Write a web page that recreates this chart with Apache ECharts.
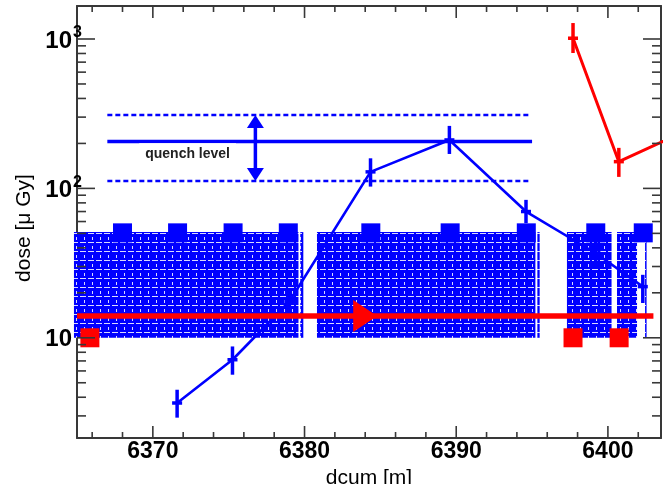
<!DOCTYPE html>
<html><head><meta charset="utf-8">
<script src="https://cdn.jsdelivr.net/npm/echarts@6/dist/echarts.min.js"></script>
<style>html,body{margin:0;padding:0;background:#fff}#c{width:666px;height:484px}</style>
</head><body><div id="c"></div>
<script>
// ---- axis ranges & ticks ----
const XMIN = 6365, XMAX = 6403.5;
const YMIN = 2.134, YMAX = 1663;
const xTickLabels = [6370, 6380, 6390, 6400];
const xMinorTicks = [6366, 6368, 6372, 6374, 6376, 6378, 6382, 6384, 6386, 6388, 6392, 6394, 6396, 6398, 6402];
const yMajorTicks = [10, 100, 1000];
const yMinorTicks = [3, 4, 5, 6, 7, 8, 9, 20, 30, 40, 50, 60, 70, 80, 90, 200, 300, 400, 500, 600, 700, 800, 900];

// ---- blue measurement (dose vs dcum) ----
const blueX  = [6371.6, 6375.25, 6379.0, 6384.35, 6389.55, 6394.6, 6399.2, 6402.3];
const blueY  = [3.66, 7.13, 17.5, 129, 211, 70, 36.8, 22];
const blueLo = [2.92, 5.66, 15.4, 102.8, 170, 58.5, 28.9, 17.1];
const blueHi = [4.49, 8.75, 19.9, 159, 262, 83.8, 44.6, 26.4];

// ---- red measurement ----
const redX  = [6397.7, 6400.72, 6405];
const redY  = [1012, 151, 239];
const redLo = [806, 119.4];
const redHi = [1279, 186.8];

// ---- markers ----
const blueSqX = [6368, 6371.63, 6375.29, 6378.93, 6384.37, 6389.6, 6394.62, 6399.2, 6402.33];
const blueSqY = [50.4, 50.4, 50.4, 50.4, 50.4, 50.4, 50.4, 50.4, 50.4];
const redSqX = [6365.85, 6397.7, 6400.74];
const redSqY = [10, 10, 10];

// ---- hatched element regions ----
const hatchX0 = [6364.8, 6379.72, 6380.82, 6395.35, 6397.3, 6400.6, 6402.45];
const hatchX1 = [6379.6, 6379.92, 6395.22, 6395.5, 6400.24, 6401.92, 6402.55];
const hatchLow = 10, hatchHigh = 51;

// ---- beam line & arrow ----
const beamX = [6365, 6403.0];
const beamY = [14, 14];
const beamArrowX = [6384.0];
const beamArrowY = [14];

// ---- quench level ----
const quenchX = [6367, 6395.0];
const quenchLevel = 206, quenchHigh = 310, quenchLow = 112;
const quenchDashX = [6367, 6394.78];
const quenchArrowX = 6376.76;
const quenchText = 'quench level';
const quenchTextPos = [6369.1, 169];

const F = "'Liberation Sans', Arial, Helvetica, sans-serif";
const BLUE = '#0000ff', RED = '#ff0000', FRAME = '#383838';

// hatch pattern tile
const pc = document.createElement('canvas');
pc.width = 8; pc.height = 9;
const g = pc.getContext('2d');
g.fillStyle = BLUE; g.fillRect(0, 0, 8, 9);
g.fillStyle = 'rgba(255,255,255,0.85)';
g.fillRect(0, 8, 6, 1);
g.fillRect(4, 3, 1, 3);
const hatchFill = {image: pc, repeat: 'repeat'};

const zip = (a, b) => a.map((v, i) => [v, b[i]]);

const tickData = [];
xTickLabels.forEach(v => tickData.push([v, YMIN, 0]));
xMinorTicks.forEach(v => tickData.push([v, YMIN, 1]));
yMajorTicks.forEach(v => tickData.push([XMIN, v, 2]));
yMinorTicks.forEach(v => tickData.push([XMIN, v, 3]));

function errRender(color) {
  return function (params, api) {
    const x = api.value(0), y = api.value(1), lo = api.value(2), hi = api.value(3), xe = 0.33;
    const t = api.coord([x, hi]), b = api.coord([x, lo]);
    const l = api.coord([x - xe, y]), r = api.coord([x + xe, y]);
    const st = {stroke: color, lineWidth: 3.5};
    return {type: 'group', children: [
      {type: 'line', shape: {x1: t[0], y1: t[1], x2: b[0], y2: b[1]}, style: st},
      {type: 'line', shape: {x1: l[0], y1: l[1], x2: r[0], y2: r[1]}, style: st}
    ]};
  };
}

const option = {
  animation: false,
  backgroundColor: '#fff',
  grid: {left: 77, right: 5, top: 6, bottom: 46, containLabel: false, outerBoundsMode: 'none'},
  xAxis: [{
    type: 'value', min: XMIN, max: XMAX, position: 'bottom',
    axisLine: {show: true, onZero: false, lineStyle: {color: FRAME, width: 2}},
    axisTick: {show: false}, splitLine: {show: false},
    axisLabel: {
      customValues: xTickLabels,
      formatter: v => (Math.abs(v % 10) < 1e-6 ? String(v) : ''),
      fontSize: 23, fontWeight: 'bold', fontFamily: F, color: '#000', margin: 2
    },
    name: 'dcum [m]', nameLocation: 'middle', nameGap: 24,
    nameTextStyle: {fontSize: 21, fontFamily: F, color: '#000'}
  }, {
    type: 'value', min: XMIN, max: XMAX, position: 'top',
    axisLine: {show: true, onZero: false, lineStyle: {color: FRAME, width: 2}},
    axisTick: {show: false}, axisLabel: {show: false}, splitLine: {show: false}
  }],
  yAxis: [{
    type: 'log', logBase: 10, min: YMIN, max: YMAX, position: 'left',
    axisLine: {show: true, onZero: false, lineStyle: {color: FRAME, width: 2}},
    axisTick: {show: false}, splitLine: {show: false}, minorTick: {show: false},
    axisLabel: {
      showMinLabel: false, showMaxLabel: false, margin: -5,
      formatter: v => {
        const e = Math.log10(v), r = Math.round(e);
        if (Math.abs(e - r) > 1e-6) return '';
        return '{b|10}{s|' + (r === 1 ? ' ' : r) + '}';
      },
      rich: {
        b: {fontSize: 24, fontWeight: 'bold', fontFamily: F, color: '#000', padding: [4, 0, 0, 0]},
        s: {fontSize: 16, fontWeight: 'bold', fontFamily: F, color: '#000', width: 10, verticalAlign: 'top'}
      }
    },
    name: 'dose [\u03bc Gy]', nameLocation: 'middle', nameGap: 36, nameRotate: 90,
    nameTextStyle: {fontSize: 21, fontFamily: F, color: '#000', padding: [0, 12, 0, 0]}
  }, {
    type: 'log', logBase: 10, min: YMIN, max: YMAX, position: 'right',
    axisLine: {show: true, onZero: false, lineStyle: {color: FRAME, width: 2}},
    axisTick: {show: false}, axisLabel: {show: false}, splitLine: {show: false}
  }],
  series: [
    { // red squares (below hatch)
      type: 'scatter', data: zip(redSqX, redSqY), symbol: 'rect', symbolSize: 19,
      itemStyle: {color: RED, opacity: 1}, z: 2
    },
    { // hatched regions
      type: 'custom', z: 2,
      data: hatchX0.map((x0, i) => [x0, hatchX1[i], hatchLow, hatchHigh]),
      encode: {x: [0, 1], y: [2, 3]},
      renderItem: (params, api) => {
        const p0 = api.coord([api.value(0), api.value(3)]);
        const p1 = api.coord([api.value(1), api.value(2)]);
        return {type: 'rect', shape: {x: p0[0], y: p0[1], width: p1[0] - p0[0], height: p1[1] - p0[1]},
          style: {fill: hatchFill}};
      }
    },
    { // blue squares
      type: 'scatter', data: zip(blueSqX, blueSqY), symbol: 'rect', symbolSize: 19,
      itemStyle: {color: BLUE, opacity: 1}, z: 3
    },
    { // blue line
      type: 'line', data: zip(blueX, blueY), symbol: 'none', z: 3,
      lineStyle: {color: BLUE, width: 2.6}
    },
    { // blue error bars
      type: 'custom', z: 3,
      data: blueX.map((x, i) => [x, blueY[i], blueLo[i], blueHi[i]]),
      encode: {x: 0, y: [1, 2, 3]},
      renderItem: errRender(BLUE)
    },
    { // quench level solid
      type: 'line', data: zip(quenchX, [quenchLevel, quenchLevel]), symbol: 'none', z: 3,
      lineStyle: {color: BLUE, width: 3.5}
    },
    { // quench high dashed
      type: 'line', data: zip(quenchDashX, [quenchHigh, quenchHigh]), symbol: 'none', z: 3,
      lineStyle: {color: BLUE, width: 2.6, type: [5, 3]}
    },
    { // quench low dashed
      type: 'line', data: zip(quenchDashX, [quenchLow, quenchLow]), symbol: 'none', z: 3,
      lineStyle: {color: BLUE, width: 2.6, type: [5, 3]}
    },
    { // double arrow
      type: 'custom', z: 4,
      data: [[quenchArrowX, quenchHigh, quenchLow]],
      encode: {x: 0, y: [1, 2]},
      renderItem: (params, api) => {
        const t = api.coord([api.value(0), api.value(1)]);
        const b = api.coord([api.value(0), api.value(2)]);
        const st = {fill: BLUE};
        return {type: 'group', children: [
          {type: 'line', shape: {x1: t[0], y1: t[1] + 10, x2: b[0], y2: b[1] - 10}, style: {stroke: BLUE, lineWidth: 3.5}},
          {type: 'polygon', shape: {points: [[t[0], t[1]], [t[0] - 8.5, t[1] + 13], [t[0] + 8.5, t[1] + 13]]}, style: st},
          {type: 'polygon', shape: {points: [[b[0], b[1]], [b[0] - 8.5, b[1] - 13], [b[0] + 8.5, b[1] - 13]]}, style: st}
        ]};
      }
    },
    { // quench label
      type: 'custom', z: 5,
      data: [[quenchTextPos[0], quenchTextPos[1]]],
      renderItem: (params, api) => {
        const p = api.coord([api.value(0), api.value(1)]);
        return {type: 'text', x: p[0], y: p[1], style: {
          text: quenchText, font: 'bold 14px ' + F, fill: '#222', align: 'left', verticalAlign: 'middle',
          backgroundColor: '#fff', padding: [4, 6, 4, 6]}};
      }
    },
    { // red beam line
      type: 'line', data: zip(beamX, beamY), symbol: 'none', z: 5,
      lineStyle: {color: RED, width: 5.5}
    },
    { // beam direction arrow
      type: 'scatter', data: zip(beamArrowX, beamArrowY), z: 5,
      symbol: 'path://M0,0 L24,16 L0,32 Z', symbolSize: [24, 32],
      itemStyle: {color: RED, opacity: 1}
    },
    { // red line
      type: 'line', data: zip(redX, redY), symbol: 'none', z: 5, clip: true,
      lineStyle: {color: RED, width: 3}
    },
    { // red error bars
      type: 'custom', z: 5,
      data: redLo.map((lo, i) => [redX[i], redY[i], lo, redHi[i]]),
      encode: {x: 0, y: [1, 2, 3]},
      renderItem: errRender(RED)
    },
    { // axis ticks on all four sides
      type: 'custom', z: 6, silent: true,
      data: tickData,
      encode: {x: 0, y: 1},
      renderItem: (params, api) => {
        const x = api.value(0), y = api.value(1), code = api.value(2);
        const st = {stroke: FRAME, lineWidth: 1.6};
        if (code < 2) {
          const b = api.coord([x, YMIN]), t = api.coord([x, YMAX]);
          const L = code === 0 ? 12 : 6;
          return {type: 'group', children: [
            {type: 'line', shape: {x1: b[0], y1: b[1], x2: b[0], y2: b[1] - L}, style: st},
            {type: 'line', shape: {x1: t[0], y1: t[1], x2: t[0], y2: t[1] + L}, style: st}
          ]};
        }
        const l = api.coord([XMIN, y]), r = api.coord([XMAX, y]);
        const L = code === 2 ? 18 : 9;
        return {type: 'group', children: [
          {type: 'line', shape: {x1: l[0], y1: l[1], x2: l[0] + L, y2: l[1]}, style: st},
          {type: 'line', shape: {x1: r[0], y1: r[1], x2: r[0] - L, y2: r[1]}, style: st}
        ]};
      }
    }
  ]
};
const chart = echarts.init(document.getElementById('c'));
chart.setOption(option);
</script></body></html>
